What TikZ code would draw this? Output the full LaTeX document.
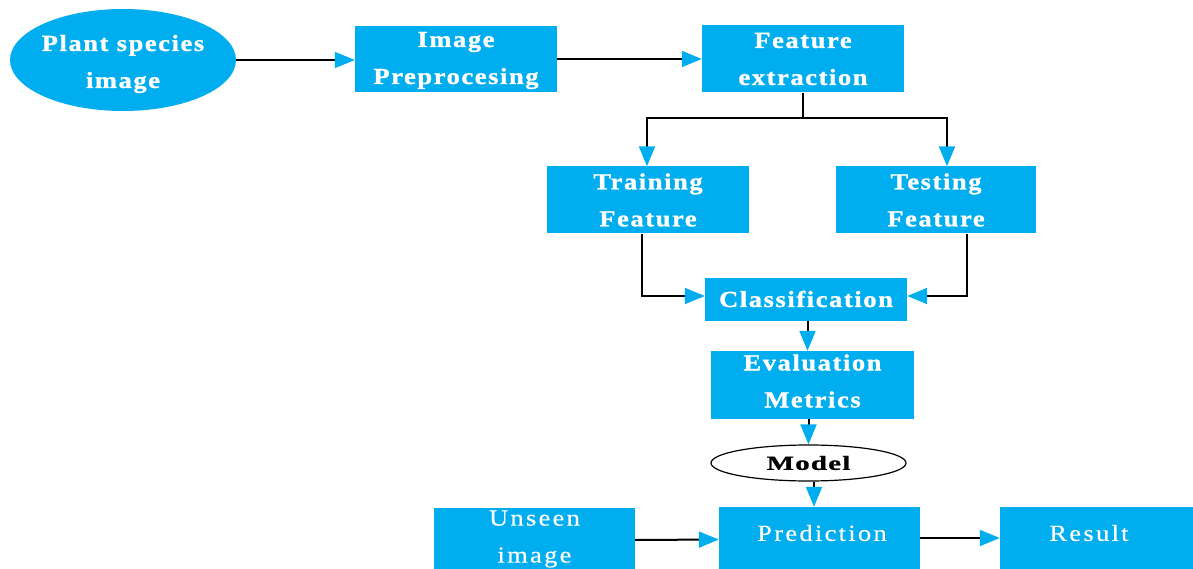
\documentclass[tikz,border=0pt]{standalone}
\usepackage{fontspec}
\usetikzlibrary{arrows.meta,shapes.geometric,calc}
\newfontfamily\labfont[LetterSpace=7,FakeStretch=1.15,FakeBold=1.2]{Liberation Serif}
\newfontfamily\plainfont[LetterSpace=10,FakeStretch=1.15,FakeBold=0.4]{Liberation Serif}
\newfontfamily\modfont[LetterSpace=6,FakeStretch=1.45,FakeBold=1.2]{Liberation Serif}
\definecolor{boxblue}{RGB}{0,173,238}
\tikzset{
  labeltext/.style={text=white, align=center, inner sep=0pt,
    font=\labfont\bfseries\fontsize{23}{37}\selectfont},
  stage/.style={rectangle, fill=boxblue, labeltext},
  plainstage/.style={rectangle, fill=boxblue, inner sep=0pt},
  plaintext/.style={text=white, align=center, inner sep=0pt,
    font=\plainfont\fontsize{23}{37}\selectfont},
  flow/.style={draw=black, line width=2pt,
    -{Triangle[length=20pt,width=16pt,fill=boxblue,color=boxblue]}},
  link/.style={draw=black, line width=2pt}
}
\begin{document}
\begin{tikzpicture}[x=1pt,y=-1pt]
\useasboundingbox (0,0) rectangle (1193,569);
\clip (0,0) rectangle (1193,569);

% pipeline stages
\node[ellipse, fill=boxblue, inner sep=0pt, minimum width=226pt, minimum height=102pt] (plant) at (123,60) {};
\node[labeltext] (planttext) at (123,64) {Plant species\\image};
\node[stage, minimum width=202pt, minimum height=66pt] (pre) at (456,59) {};
\node[labeltext] (pretext) at (456,60.5) {Image\\Preprocesing};
\node[stage, minimum width=202pt, minimum height=67pt] (fe) at (803,59) {Feature\\extraction};
\node[stage, minimum width=202pt, minimum height=67pt] (tr) at (648,200) {Training\\Feature};
\node[stage, minimum width=200pt, minimum height=67pt] (te) at (936,200) {Testing\\Feature};
\node[stage, minimum width=202pt, minimum height=43pt] (cls) at (806,299) {Classification};
\node[stage, minimum width=203pt, minimum height=68pt] (ev) at (812.5,385) {};
\node[labeltext] (evtext) at (812.5,381) {Evaluation\\Metrics};
\node[ellipse, draw=black, line width=1.2pt, fill=white, minimum width=195pt, minimum height=36pt, inner sep=0pt,
  font=\modfont\bfseries\fontsize{20}{25}\selectfont] (model) at (808.5,463) {Model};

% prediction stage
\node[plainstage, minimum width=201pt, minimum height=67pt] (un) at (534.5,541.5) {};
\node[plaintext] (untext) at (534.5,539) {Unseen\\image};
\node[plainstage, minimum width=201pt, minimum height=68pt] (pr) at (819.5,541) {};
\node[plaintext] (prtext) at (822,533) {Prediction};
\node[plainstage, minimum width=200pt, minimum height=68pt] (res) at (1100,541) {};
\node[plaintext] (restext) at (1089,533) {Result};

% connectors
\draw[flow] (plant.east) -- (plant.east -| pre.west);
\draw[flow] (pre.east) -- (pre.east -| fe.west);
\draw[link] (fe.south) -- ++(0,25) coordinate (split);
\draw[flow] (split) -| ([xshift=-1pt]tr.north);
\draw[flow] (split) -| ([xshift=11pt]te.north);
\draw[flow] ([xshift=-6pt]tr.south) |- ([yshift=3pt]cls.west);
\draw[flow] ([xshift=31pt]te.south) |- ([yshift=3pt]cls.east);
\draw[flow] ([xshift=1.5pt]cls.south) -- ([xshift=1.5pt]cls.south |- ev.north);
\draw[flow] (model.north |- ev.south) -- (model.north);
\draw[flow] ([xshift=5.5pt]model.south) -- ([xshift=5.5pt]model.south |- pr.north);
\draw[flow] ([yshift=1.5pt]un.east) -- ([yshift=1.5pt]pr.west);
\draw[flow] ([yshift=3pt]pr.east) -- ([yshift=3pt]res.west);
\end{tikzpicture}
\end{document}
